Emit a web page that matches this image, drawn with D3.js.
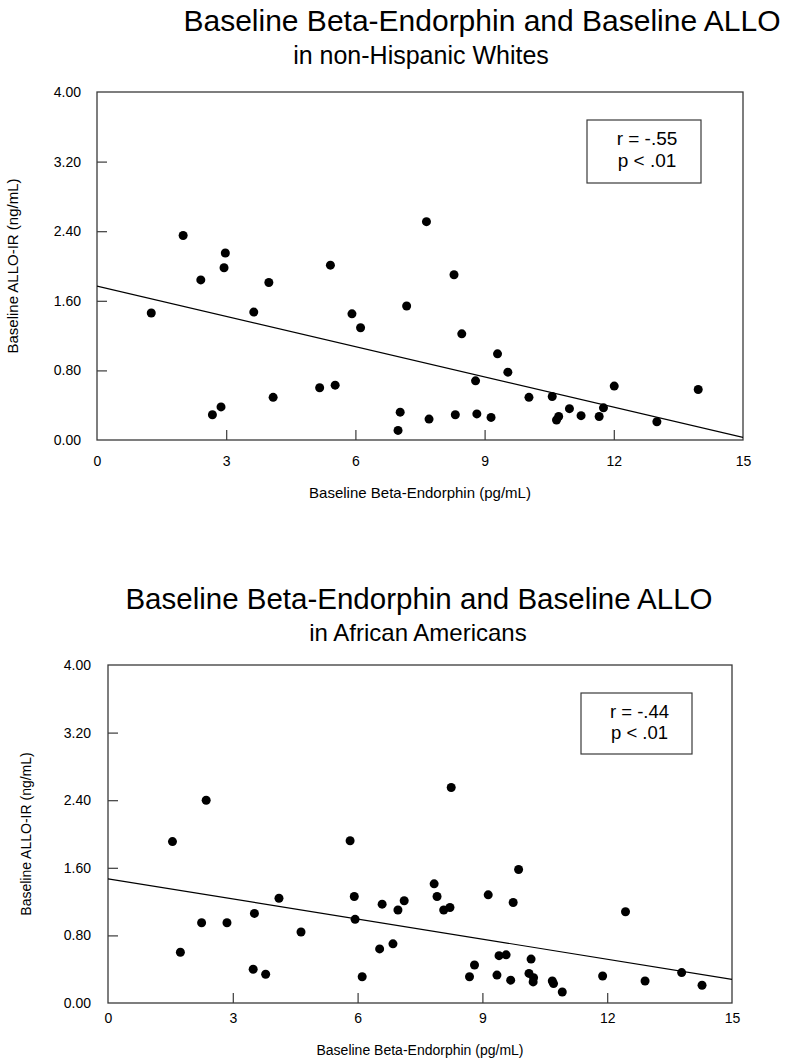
<!DOCTYPE html>
<html>
<head>
<meta charset="utf-8">
<script src="https://cdn.jsdelivr.net/npm/d3@7"></script>
<style>
  html, body { margin: 0; padding: 0; background: #fff; }
  svg { display: block; }
  text { font-family: "Liberation Sans", Arial, sans-serif; fill: #000; }
</style>
</head>
<body>
<svg id="chart" width="788" height="1063"></svg>
<script>
// ---------- DATA ----------
const xTicks = [0, 3, 6, 9, 12, 15];
const yTicks = [0, 0.8, 1.6, 2.4, 3.2, 4.0];
const xLabel = "Baseline Beta-Endorphin (pg/mL)";
const yLabel = "Baseline ALLO-IR (ng/mL)";
const titleMain = "Baseline Beta-Endorphin and Baseline ALLO";

// non-Hispanic Whites
const whitesSubtitle = "in non-Hispanic Whites";
const whitesBeta = [1.26, 2.00, 2.41, 2.98, 2.95, 2.68, 2.88, 3.64, 3.99, 4.09,
  5.17, 5.53, 5.42, 5.92, 6.12, 7.19, 7.04, 6.99, 7.65, 7.71,
  8.29, 8.47, 9.30, 9.54, 8.79, 8.32, 8.82, 9.15, 10.03, 10.57,
  10.97, 10.72, 10.67, 11.24, 11.76, 11.66, 12.01, 13.00, 13.96];
const whitesAllo = [1.46, 2.35, 1.84, 2.15, 1.98, 0.29, 0.38, 1.47, 1.81, 0.49,
  0.60, 0.63, 2.01, 1.45, 1.29, 1.54, 0.32, 0.11, 2.51, 0.24,
  1.90, 1.22, 0.99, 0.78, 0.68, 0.29, 0.30, 0.26, 0.49, 0.50,
  0.36, 0.27, 0.23, 0.28, 0.37, 0.27, 0.62, 0.21, 0.58];
const whitesFit = [[0, 1.77], [15, 0.03]];
const whitesStats = ["r = -.55", "p < .01"];

// African Americans
const aaSubtitle = "in African Americans";
const aaBeta = [1.55, 1.74, 2.36, 2.25, 2.86, 3.52, 3.49, 3.79, 4.11, 4.64,
  5.82, 5.92, 5.94, 6.11, 6.59, 6.53, 6.85, 6.97, 7.12, 7.84,
  7.91, 8.07, 8.22, 8.25, 9.14, 9.74, 9.87, 9.40, 9.57, 10.17,
  8.81, 8.69, 9.35, 9.68, 10.12, 10.23, 10.22, 10.68, 10.71, 10.92,
  11.89, 12.44, 12.91, 13.79, 14.28];
const aaAllo = [1.91, 0.60, 2.40, 0.95, 0.95, 1.06, 0.40, 0.34, 1.24, 0.84,
  1.92, 1.26, 0.99, 0.31, 1.17, 0.64, 0.70, 1.10, 1.21, 1.41,
  1.26, 1.10, 1.13, 2.55, 1.28, 1.19, 1.58, 0.56, 0.57, 0.52,
  0.45, 0.31, 0.33, 0.27, 0.35, 0.30, 0.25, 0.26, 0.23, 0.13,
  0.32, 1.08, 0.26, 0.36, 0.21];
const aaFit = [[0, 1.47], [15, 0.28]];
const aaStats = ["r = -.44", "p < .01"];

// ---------- DRAW ----------
const svg = d3.select("#chart");
const frameColor = "#3a3a3a";

function panel(cfg) {
  const g = svg.append("g");
  // titles
  g.append("text").attr("x", cfg.titleX).attr("y", cfg.titleY)
    .attr("text-anchor", "middle").style("font-size", cfg.titleSize + "px")
    .text(titleMain);
  g.append("text").attr("x", cfg.subX).attr("y", cfg.subY)
    .attr("text-anchor", "middle").style("font-size", cfg.subSize + "px")
    .text(cfg.subtitle);

  const x = d3.scaleLinear().domain([0, 15]).range([cfg.left, cfg.right]);
  const y = d3.scaleLinear().domain([0, 4]).range([cfg.bottom, cfg.top]);

  // frame
  g.append("rect").attr("x", cfg.left).attr("y", cfg.top)
    .attr("width", cfg.right - cfg.left).attr("height", cfg.bottom - cfg.top)
    .attr("fill", "none").attr("stroke", frameColor).attr("stroke-width", 1.3);

  // axes
  const xAxis = d3.axisBottom(x).tickValues(xTicks).tickFormat(d3.format("d"))
    .tickSize(-10).tickPadding(cfg.xPad);
  const yAxis = d3.axisLeft(y).tickValues(yTicks).tickFormat(d3.format(".2f"))
    .tickSize(-10).tickPadding(cfg.yPad);
  const gx = g.append("g").attr("transform", `translate(0,${cfg.bottom})`).call(xAxis);
  const gy = g.append("g").attr("transform", `translate(${cfg.left},0)`).call(yAxis);
  [gx, gy].forEach(a => {
    a.select(".domain").remove();
    a.selectAll(".tick line").attr("stroke", frameColor).attr("stroke-width", 1.2);
    a.selectAll(".tick text").style("font-size", cfg.tickSize + "px")
      .style("font-family", '"Liberation Sans", Arial, sans-serif').attr("fill", "#000");
  });
  gx.selectAll(".tick").filter(d => d === 0 || d === 15).select("line").remove();
  gy.selectAll(".tick").filter(d => d === 0 || d === 4).select("line").remove();

  // axis titles
  g.append("text").attr("x", (cfg.left + cfg.right) / 2).attr("y", cfg.xTitleY)
    .attr("text-anchor", "middle").style("font-size", cfg.axisTitleSize + "px")
    .text(xLabel);
  g.append("text")
    .attr("transform", `translate(${cfg.yTitleX},${(cfg.top + cfg.bottom) / 2}) rotate(-90)`)
    .attr("text-anchor", "middle").style("font-size", cfg.axisTitleSize + "px")
    .text(yLabel);

  // regression line (clipped to plot)
  const clipId = "clip" + cfg.id;
  g.append("clipPath").attr("id", clipId).append("rect")
    .attr("x", cfg.left).attr("y", cfg.top)
    .attr("width", cfg.right - cfg.left).attr("height", cfg.bottom - cfg.top);
  g.append("path").datum(cfg.fit)
    .attr("clip-path", `url(#${clipId})`)
    .attr("d", d3.line().x(d => x(d[0])).y(d => y(d[1])))
    .attr("fill", "none").attr("stroke", "#000").attr("stroke-width", 1.2);

  // points
  g.append("g").selectAll("circle").data(cfg.xs)
    .join("circle")
    .attr("cx", d => x(d))
    .attr("cy", (d, i) => y(cfg.ys[i]))
    .attr("r", 4.5).attr("fill", "#000");

  // stats box
  const b = cfg.box;
  g.append("rect").attr("x", b[0]).attr("y", b[1]).attr("width", b[2]).attr("height", b[3])
    .attr("fill", "#fff").attr("stroke", frameColor).attr("stroke-width", 1.2);
  cfg.stats.forEach((s, i) => {
    g.append("text").attr("x", b[0] + b[2] / 2 + 3).attr("y", cfg.statY[i])
      .attr("text-anchor", "middle").style("font-size", cfg.statSize + "px").text(s);
  });
}

panel({
  id: "w", subtitle: whitesSubtitle, xs: whitesBeta, ys: whitesAllo, fit: whitesFit, stats: whitesStats,
  titleX: 482, titleY: 31, titleSize: 30, subX: 421, subY: 64, subSize: 25,
  left: 97, right: 743, top: 92, bottom: 440,
  xPad: 16, yPad: 16, tickSize: 14, axisTitleSize: 15,
  xTitleY: 498, yTitleX: 18,
  box: [587, 120, 114, 63], statY: [145, 167], statSize: 19
});

panel({
  id: "a", subtitle: aaSubtitle, xs: aaBeta, ys: aaAllo, fit: aaFit, stats: aaStats,
  titleX: 419, titleY: 609, titleSize: 29.5, subX: 418, subY: 641, subSize: 24,
  left: 108, right: 732, top: 665, bottom: 1003,
  xPad: 10, yPad: 17, tickSize: 14, axisTitleSize: 14,
  xTitleY: 1055, yTitleX: 31,
  box: [581, 693, 111, 61], statY: [718, 739], statSize: 18.5
});
</script>
</body>
</html>
